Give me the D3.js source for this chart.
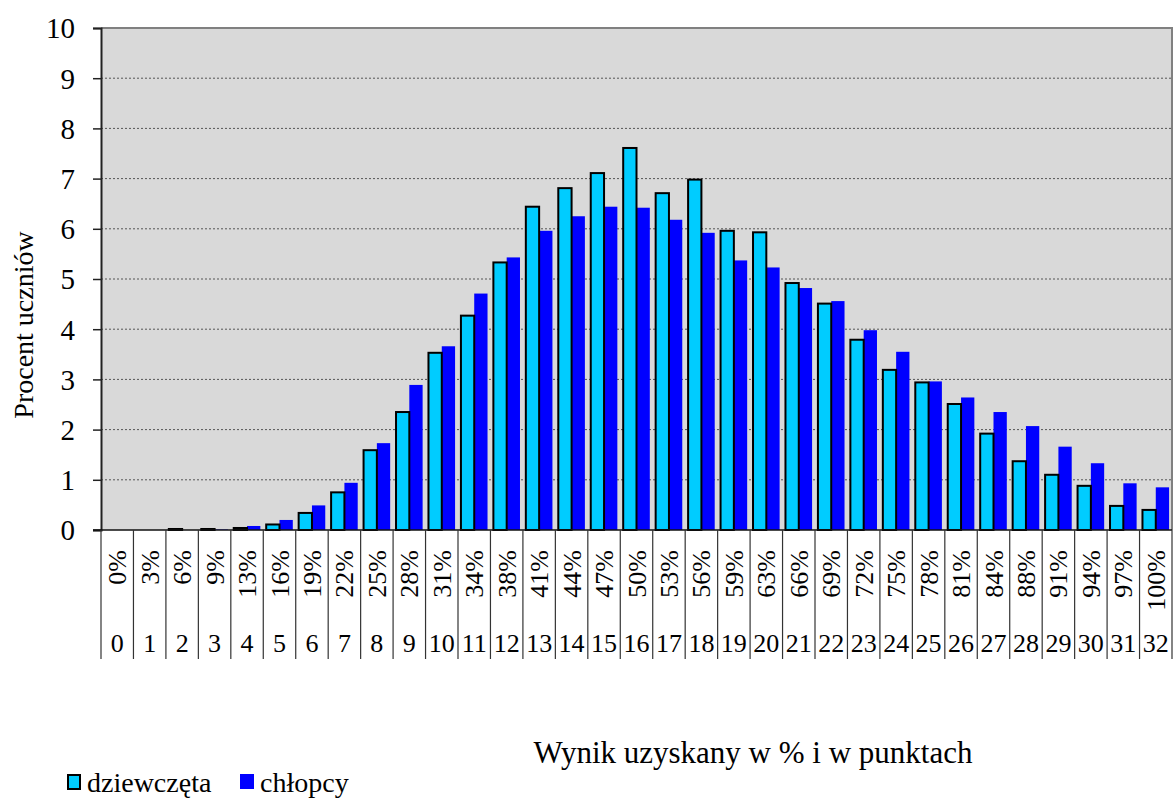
<!DOCTYPE html>
<html><head><meta charset="utf-8">
<script src="https://cdn.jsdelivr.net/npm/d3@7"></script>
<style>body{margin:0;background:#fff}svg{display:block}text{font-family:"Liberation Serif","Times New Roman",serif;fill:#000}</style>
</head><body><svg id="c" width="1174" height="798"></svg>
<script>
const points = d3.range(0, 33);
const percentLabels = ["0%","3%","6%","9%","13%","16%","19%","22%","25%","28%","31%","34%","38%","41%","44%","47%","50%","53%","56%","59%","63%","66%","69%","72%","75%","78%","81%","84%","88%","91%","94%","97%","100%"];
const girls = [0,0,0.02,0.02,0.04,0.11,0.34,0.75,1.59,2.35,3.53,4.27,5.33,6.44,6.81,7.11,7.61,6.71,6.98,5.96,5.93,4.92,4.51,3.79,3.19,2.94,2.51,1.92,1.37,1.10,0.88,0.48,0.40];
const boys  = [0,0,0,0.01,0.08,0.20,0.49,0.94,1.73,2.89,3.66,4.71,5.43,5.96,6.25,6.44,6.42,6.18,5.92,5.37,5.23,4.82,4.56,3.98,3.55,2.96,2.64,2.35,2.07,1.66,1.33,0.93,0.85];
const seriesNames = ["dziewczęta","chłopcy"];
const yTicks = d3.range(0, 11);

const svg = d3.select("#c");
const L = 101, R = 1172, T = 28, B = 530;
const x = d3.scaleBand().domain(points).range([L, R]).paddingInner(0).paddingOuter(0);
const x1 = d3.scaleBand().domain([0,1]).range([0, x.bandwidth()]).paddingInner(0).paddingOuter(0.22);
const y = d3.scaleLinear().domain([0, 10]).range([B, T]);

// plot background
svg.append("rect").attr("x", L).attr("y", T).attr("width", R - L).attr("height", B - T).attr("fill", "#d9d9d9");
// gridlines
svg.append("g").selectAll("line").data(yTicks.filter(d => d > 0 && d < 10)).join("line")
  .attr("x1", L).attr("x2", R).attr("y1", d => y(d)).attr("y2", d => y(d))
  .attr("stroke", "#555").attr("stroke-width", 1).attr("stroke-dasharray", "2,2");
// top / right border
svg.append("path").attr("d", `M${L},${T}H${R}V${B}`).attr("fill", "none").attr("stroke", "#808080").attr("stroke-width", 2);

// bars
const data = points.map(i => ({i, v: [girls[i], boys[i]]}));
const gBars = svg.append("g");
gBars.selectAll("rect.b").data(data).join("rect").attr("class", "b")
  .attr("x", d => x(d.i) + x1(1)).attr("width", x1.bandwidth())
  .attr("y", d => y(d.v[1])).attr("height", d => B - y(d.v[1]))
  .attr("fill", "#0000ff");
gBars.selectAll("rect.g").data(data).join("rect").attr("class", "g")
  .attr("x", d => x(d.i) + x1(0)).attr("width", x1.bandwidth())
  .attr("y", d => y(d.v[0])).attr("height", d => B - y(d.v[0]))
  .attr("fill", "#00ccff").attr("stroke", "#000").attr("stroke-width", 2)
  .attr("display", d => d.v[0] > 0 ? null : "none");

// y axis
const yAxis = d3.axisLeft(y).tickValues(yTicks).tickSize(8).tickPadding(18).tickFormat(d3.format("d"));
const ya = svg.append("g").attr("transform", `translate(${L},0)`).call(yAxis);
ya.select(".domain").attr("stroke", "#222").attr("stroke-width", 2);
ya.selectAll(".tick line").attr("stroke", "#222").attr("stroke-width", 1.5);
ya.selectAll(".tick text").style("font-size", "29px").attr("font-family", "Liberation Serif").attr("dy", "0.34em");

// x axis line
svg.append("line").attr("x1", L - 8).attr("x2", R).attr("y1", B).attr("y2", B).attr("stroke", "#111").attr("stroke-width", 1.5);
// category separators
const bounds = points.map(i => x(i)).concat([R]);
svg.append("g").selectAll("line").data(bounds).join("line")
  .attr("x1", d => d).attr("x2", d => d).attr("y1", B).attr("y2", 659)
  .attr("stroke", "#333").attr("stroke-width", 1.2);
// percent labels
svg.append("g").selectAll("text").data(points).join("text")
  .attr("transform", i => `translate(${x(i) + x.bandwidth()/2 + 9},550) rotate(-90)`)
  .attr("text-anchor", "end").style("font-size", "26px").text(i => percentLabels[i]);
// point labels
svg.append("g").selectAll("text").data(points).join("text")
  .attr("x", i => x(i) + x.bandwidth()/2).attr("y", 652)
  .attr("text-anchor", "middle").style("font-size", "26px").text(i => i);

// axis titles
svg.append("text").attr("transform", "translate(33,325) rotate(-90)").attr("text-anchor", "middle")
  .style("font-size", "28px").text("Procent uczniów");
svg.append("text").attr("x", 753).attr("y", 763).attr("text-anchor", "middle")
  .style("font-size", "31px").text("Wynik uzyskany w % i w punktach");

// legend
const leg = svg.append("g");
const legX = [67, 240];
leg.selectAll("rect").data(seriesNames).join("rect")
  .attr("x", (d, i) => legX[i] + (i === 0 ? 1 : 0)).attr("y", (d, i) => 774 + (i === 0 ? 1 : 0))
  .attr("width", (d, i) => i === 0 ? 12 : 14).attr("height", (d, i) => i === 0 ? 14 : 15)
  .attr("fill", (d, i) => i === 0 ? "#00ccff" : "#0000ff")
  .attr("stroke", (d, i) => i === 0 ? "#000" : "none").attr("stroke-width", 2);
leg.selectAll("text").data(seriesNames).join("text")
  .attr("x", (d, i) => legX[i] + 20).attr("y", 792).style("font-size", "28px").text(d => d);
</script></body></html>
